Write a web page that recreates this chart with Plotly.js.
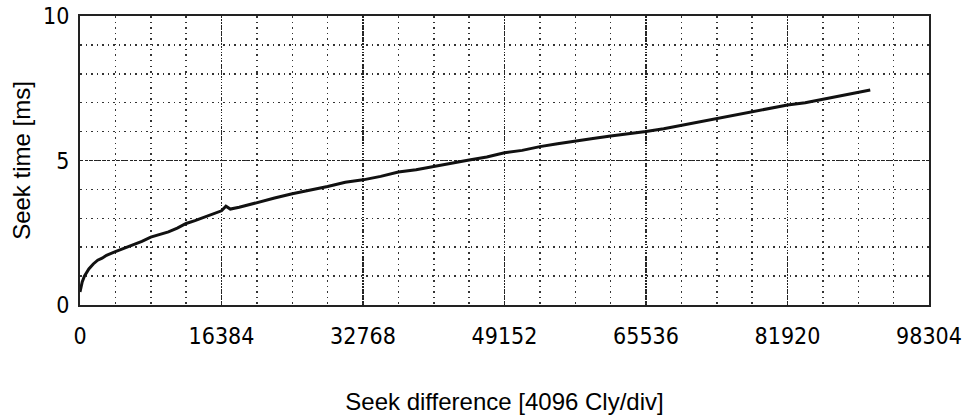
<!DOCTYPE html>
<html>
<head>
<meta charset="utf-8">
<script src="https://cdn.plot.ly/plotly-3.0.1.min.js"></script>
<style>html,body{margin:0;padding:0;background:#fff;}#chart{width:971px;height:419px;}</style>
</head>
<body>
<div id="chart"></div>
<script>
// Seek difference (cylinders) and seek time (ms)
const seekDiff = [0, 256, 512, 1024, 1536, 2048, 2560, 3072, 4096, 5120, 6144, 7168, 8192, 9216, 10240, 11264, 12288, 13312, 14336, 15360, 16384, 16896, 17408, 18432, 20480, 22528, 24576, 26624, 28672, 30720, 32768, 34816, 36864, 38912, 40960, 43008, 45056, 47104, 49152, 51200, 53248, 55296, 57344, 59392, 61440, 63488, 65536, 67584, 69632, 71680, 73728, 75776, 77824, 79872, 81920, 83968, 86016, 88064, 90112, 91500];
const seekTime = [0.45, 0.8, 1.0, 1.25, 1.42, 1.55, 1.62, 1.72, 1.85, 1.97, 2.07, 2.2, 2.35, 2.45, 2.53, 2.66, 2.82, 2.92, 3.03, 3.13, 3.26, 3.42, 3.32, 3.38, 3.55, 3.7, 3.85, 3.97, 4.1, 4.25, 4.33, 4.45, 4.6, 4.68, 4.8, 4.92, 5.02, 5.12, 5.27, 5.35, 5.48, 5.58, 5.66, 5.76, 5.85, 5.92, 6.0, 6.1, 6.22, 6.32, 6.45, 6.57, 6.7, 6.8, 6.92, 7.0, 7.12, 7.24, 7.35, 7.44];
const xTicks = [0, 16384, 32768, 49152, 65536, 81920, 98304];
const yTicks = [0, 5, 10];

const tickFont = {family: '"DejaVu Sans Condensed", "Liberation Sans Narrow", sans-serif', size: 23, color: '#000'};
const titleFont = {family: '"Liberation Sans", Arial, sans-serif', size: 24, color: '#000'};

const trace = {
  x: seekDiff, y: seekTime, type: 'scatter', mode: 'lines',
  line: {color: '#111', width: 3},
  hoverinfo: 'skip'
};

const layout = {
  width: 971, height: 419,
  margin: {l: 80, r: 42, t: 16, b: 114},
  paper_bgcolor: '#fff', plot_bgcolor: '#fff',
  showlegend: false,
  xaxis: {
    range: [0, 98304], tickvals: xTicks, ticktext: xTicks.map(String),
    ticks: '', ticklabelstandoff: 9, tickfont: tickFont,
    showline: true, mirror: true, linecolor: '#222', linewidth: 2,
    showgrid: true, gridcolor: '#222', gridwidth: 1.5, griddash: '1.5px,1.5px',
    zeroline: false,
    minor: {dtick: 4096, tick0: 0, showgrid: true, gridcolor: '#333', gridwidth: 1.5, griddash: '1.5px,4px', ticks: ''},
    title: {text: 'Seek difference [4096 Cly/div]', font: titleFont, standoff: 46},
    automargin: false
  },
  yaxis: {
    range: [0, 10], tickvals: yTicks, ticktext: yTicks.map(String),
    ticks: '', ticklabelstandoff: 4, tickfont: tickFont,
    showline: true, mirror: true, linecolor: '#222', linewidth: 2,
    showgrid: true, gridcolor: '#222', gridwidth: 1.5, griddash: '3px,1.5px',
    zeroline: false,
    minor: {dtick: 1, tick0: 0, showgrid: true, gridcolor: '#333', gridwidth: 1.5, griddash: '1.5px,4px', ticks: ''},
    title: {text: 'Seek time [ms]', font: titleFont, standoff: 6},
    automargin: false
  }
};

Plotly.newPlot('chart', [trace], layout, {displayModeBar: false, staticPlot: true});
</script>
</body>
</html>
